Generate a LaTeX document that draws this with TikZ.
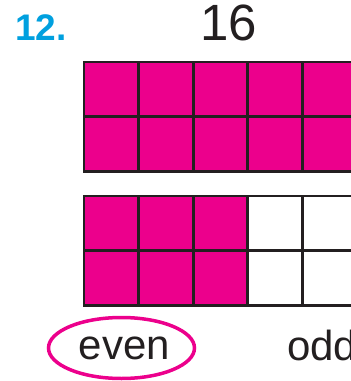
\documentclass[tikz,border=0pt]{standalone}
\usepackage{fontspec}
\setmainfont{Liberation Sans}
\usepackage{tikz}
\usetikzlibrary{shapes.geometric}
\definecolor{shade}{RGB}{236,0,140}
\definecolor{number}{RGB}{0,160,223}
\definecolor{ink}{RGB}{35,31,32}

\begin{document}
\begin{tikzpicture}[
  x=1pt, y=-1pt,
  cell/.style={draw=ink, line width=2.7pt},
  filled/.style={cell, fill=shade},
  empty/.style={cell, fill=white},
  word/.style={font=\fontsize{42}{42}\selectfont, text=ink, inner sep=0pt}
]
\useasboundingbox (0,0) rectangle (351,381);
\clip (0,0) rectangle (351,381);

% Heading.
\node[font=\fontsize{37}{37}\selectfont\bfseries, text=number, anchor=base west,
  inner sep=0pt] (num) at (15,40) {12.};
\node[font=\fontsize{51}{51}\selectfont, text=ink, anchor=base, inner sep=0pt]
  (total) at (229,40) {16};

% Top frame: all shaded.
\foreach \c in {0,...,5}
  \foreach \r in {0,1}
    \draw[filled] (84+54.6*\c,62+54.8*\r) rectangle ++(54.6,54.8);

% Bottom frame: three columns shaded.
\foreach \c in {0,...,5}
  \foreach \r in {0,1} {
    \ifnum\c<3
      \draw[filled] (84+54.6*\c,196+54.8*\r) rectangle ++(54.6,54.8);
    \else
      \draw[empty] (84+54.6*\c,196+54.8*\r) rectangle ++(54.6,54.8);
    \fi
  }

% Answer choices.
\node[word, ellipse, draw=shade, line width=3.5pt, minimum width=146pt,
  minimum height=61pt] (even) at (121.5,348) {\hspace*{6pt}even};
\node[word, anchor=base west] (odd) at (287,360) {odd};

\end{tikzpicture}
\end{document}
